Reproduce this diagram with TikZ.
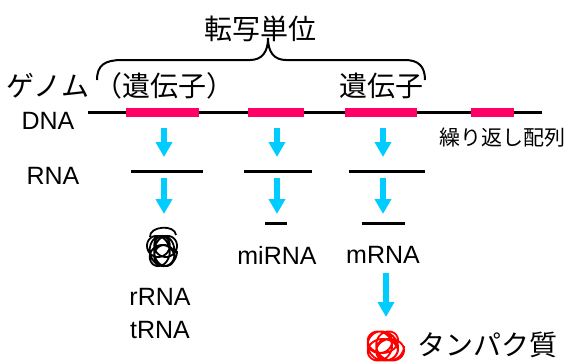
\documentclass[tikz,border=0pt]{standalone}
\usepackage{fontspec}
\setmainfont{Liberation Sans}
\newfontfamily\jpfont{Noto Sans CJK JP}
\usetikzlibrary{arrows.meta}
\definecolor{genepink}{RGB}{255,0,102}
\definecolor{flowcyan}{RGB}{0,204,255}
\definecolor{protred}{RGB}{255,0,0}

\begin{document}
\begin{tikzpicture}[x=1pt,y=-1pt,
  lat/.style={font=\fontsize{25}{25}\selectfont, inner sep=0pt},
  jpl/.style={font=\jpfont\fontsize{28}{28}\selectfont, inner sep=0pt},
  jps/.style={font=\jpfont\fontsize{21}{21}\selectfont, inner sep=0pt},
  flow/.style={flowcyan, line width=5.5pt, -{Triangle[width=16pt,length=15pt]}},
  strand/.style={line width=3pt},
  gene/.style={genepink, line width=9pt},
  tangle/.style={line width=1.8pt, smooth, samples=240, variable=\t},
]
\useasboundingbox (0,0) rectangle (564,361);

% labels
\node[jpl] (unit)   at (260,29)  {転写単位};
\node[jpl] (genome) at (48,86)   {ゲノム};
\node[jpl] (geneA)  at (164,86)  {（遺伝子）};
\node[jpl] (geneB)  at (381,86)  {遺伝子};
\node[lat] (dna)    at (48,121)  {DNA};
\node[lat] (rna)    at (53,176)  {RNA};
\node[jps] (repeat) at (502,138) {繰り返し配列};
\node[lat] (mirna)  at (277,255) {miRNA};
\node[lat] (mrna)   at (383,255) {mRNA};
\node[lat] (rrna)   at (160,297) {rRNA};
\node[lat] (trna)   at (160,330) {tRNA};
\node[jpl] (prot)   at (487,345) {タンパク質};

% brace over the transcription unit
\draw[line width=2pt] (97,80) .. controls (97,65) and (105,60) .. (122,60) -- (250,60)
  .. controls (262,60) and (268,52) .. (268,38)
  .. controls (268,52) and (274,60) .. (286,60) -- (405,60)
  .. controls (418,60) and (425,66) .. (425,80);

% genomic DNA with gene segments
\coordinate (dnaL) at (88,112);
\coordinate (dnaR) at (542,112);
\draw[strand] (dnaL) -- (dnaR);
\draw[gene] (126,112) -- (199,112);
\draw[gene] (248,112) -- (304,112);
\draw[gene] (345,112) -- (417,112);
\draw[gene] (471,112) -- (514,112);

% primary transcripts
\draw[strand] (131,171) -- (203,171);
\draw[strand] (244,171) -- (312,171);
\draw[strand] (349,171) -- (425,171);

% processed RNAs
\draw[strand] (265,223) -- (287,223);
\draw[strand] (362,223) -- (405,223);

% transcription / processing arrows
\coordinate (a1) at (164,128); \coordinate (b1) at (164,157);
\coordinate (a2) at (277,128); \coordinate (b2) at (277,157);
\coordinate (a3) at (383,128); \coordinate (b3) at (383,157);
\coordinate (c1) at (164,178); \coordinate (d1) at (164,214);
\coordinate (c2) at (277,178); \coordinate (d2) at (277,214);
\coordinate (c3) at (383,178); \coordinate (d3) at (383,214);
\draw[flow] (a1) -- (b1);
\draw[flow] (a2) -- (b2);
\draw[flow] (a3) -- (b3);
\draw[flow] (c1) -- (d1);
\draw[flow] (c2) -- (d2);
\draw[flow] (c3) -- (d3);

% translation arrow
\coordinate (e) at (386,273); \coordinate (f) at (386,317);
\draw[flow] (e) -- (f);

% folded RNA: drifting loops
\draw[tangle, domain=0:2160] plot ({162 + 11*cos(\t) + 4*cos(\t/5)}, {251 + 12*sin(\t) + 6*sin(\t/3)});
\draw[line width=1.8pt] (150,237) .. controls (149,226) and (175,224) .. (176,235);

% folded protein: drifting loops
\draw[tangle, protred, domain=0:2520] plot ({385 + 13*cos(\t) + 6*cos(\t/4)}, {346 + 12*sin(\t) + 5*sin(\t/3)});
\end{tikzpicture}
\end{document}
